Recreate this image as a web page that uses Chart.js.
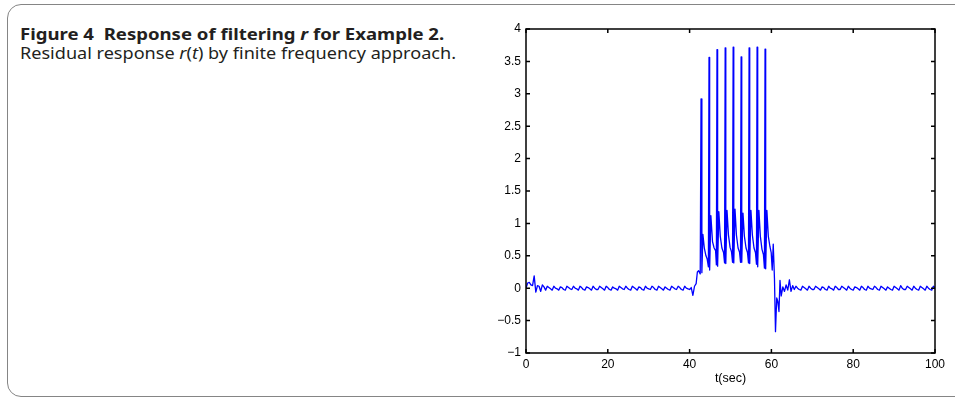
<!DOCTYPE html>
<html>
<head>
<meta charset="utf-8">
<script src="https://cdn.jsdelivr.net/npm/chart.js@4.4.1/dist/chart.umd.min.js"></script>
<style>
  body { margin: 0; width: 955px; height: 399px; overflow: hidden; background: #fff; position: relative; }
  .frame { position: absolute; left: 7px; top: 4px; width: 1000px; height: 391px; border: 1.5px solid #858585; border-radius: 14px; }
  .caption { position: absolute; left: 20px; top: 24px; font-family: "Noto Sans", sans-serif; color: #231f20; white-space: nowrap; }
  .caption div { transform-origin: left center; }
  .caption .title { font-weight: bold; font-size: 16px; line-height: 20px; transform: scaleX(1.16); }
  .caption .sub { font-size: 16px; line-height: 19px; transform: scaleX(1.13); }
  .plot { position: absolute; left: 470px; top: 0; width: 485px; height: 399px; }
</style>
</head>
<body>
<div class="frame"></div>
<div class="caption">
  <div class="title">Figure 4&nbsp;&nbsp;Response of filtering <i>r</i> for Example 2.</div>
  <div class="sub">Residual response <i>r</i>(<i>t</i>) by finite frequency approach.</div>
</div>
<div class="plot"><canvas id="chart" width="485" height="399"></canvas></div>
<script>
// residual r(t) before the fault (0 - 41.2 s)
const timeBefore = [
  0, 0.4, 0.8, 1.2, 1.6, 2.0, 2.4, 2.8, 3.2, 3.6,
  4.0, 4.4, 4.8, 5.2, 5.6, 6.0, 6.4, 6.8, 7.2, 7.6,
  8.0, 8.4, 8.8, 9.2, 9.6, 10.0, 10.4, 10.8, 11.2, 11.6,
  12.0, 12.4, 12.8, 13.2, 13.6, 14.0, 14.4, 14.8, 15.2, 15.6,
  16.0, 16.4, 16.8, 17.2, 17.6, 18.0, 18.4, 18.8, 19.2, 19.6,
  20.0, 20.4, 20.8, 21.2, 21.6, 22.0, 22.4, 22.8, 23.2, 23.6,
  24.0, 24.4, 24.8, 25.2, 25.6, 26.0, 26.4, 26.8, 27.2, 27.6,
  28.0, 28.4, 28.8, 29.2, 29.6, 30.0, 30.4, 30.8, 31.2, 31.6,
  32.0, 32.4, 32.8, 33.2, 33.6, 34.0, 34.4, 34.8, 35.2, 35.6,
  36.0, 36.4, 36.8, 37.2, 37.6, 38.0, 38.4, 38.8, 39.2, 39.6,
  40.0, 40.4, 40.8, 41.2
];
const residualBefore = [
  0.00, 0.08, 0.09, 0.05, 0.04, 0.19, -0.06, 0.04, 0.03, -0.05,
  0.05, 0.02, -0.03, 0.03, 0.01, -0.01, -0.03, 0.03, 0.00, -0.01,
  -0.03, 0.02, 0.01, -0.02, -0.03, 0.03, 0.01, -0.01, -0.02, 0.03,
  0.00, -0.01, -0.03, 0.03, 0.01, -0.02, -0.03, 0.02, 0.01, -0.01,
  -0.03, 0.03, 0.00, -0.02, -0.02, 0.03, 0.01, -0.01, -0.03, 0.03,
  0.01, -0.02, -0.03, 0.02, 0.00, -0.01, -0.03, 0.03, 0.01, -0.01,
  -0.02, 0.03, 0.00, -0.02, -0.03, 0.03, 0.01, -0.01, -0.03, 0.02,
  0.01, -0.02, -0.03, 0.03, 0.00, -0.01, -0.02, 0.03, 0.01, -0.02,
  -0.03, 0.03, 0.01, -0.01, -0.03, 0.02, 0.00, -0.02, -0.03, 0.03,
  0.01, -0.01, -0.02, 0.03, 0.01, -0.02, -0.03, 0.03, 0.00, -0.01,
  -0.02, 0.01, -0.11, 0.03
];

// fault period with the spikes (41.6 - 65.6 s)
const timeBurst = [
  41.6, 41.9, 42.2, 42.6, 42.8, 43.0, 43.25, 43.6, 44.0, 44.3, 44.6,
  44.75, 44.9, 45.2, 45.6, 46.0, 46.35, 46.55,
  46.7, 46.85, 47.15, 47.5, 47.9, 48.3, 48.55,
  48.7, 48.85, 49.15, 49.5, 49.9, 50.25, 50.5,
  50.65, 50.8, 51.1, 51.45, 51.85, 52.2, 52.45,
  52.6, 52.75, 53.05, 53.4, 53.8, 54.15, 54.4,
  54.55, 54.7, 55.0, 55.35, 55.75, 56.1, 56.35,
  56.5, 56.65, 56.95, 57.3, 57.7, 58.05, 58.3,
  58.45, 58.6, 58.9, 59.25, 59.65, 59.95, 60.2,
  60.45, 60.75, 61.0, 61.3, 61.55, 61.85, 62.1, 62.4, 62.8, 63.2,
  63.6, 64.0, 64.4, 64.8, 65.2, 65.6
];
const residualBurst = [
  0.07, 0.25, 0.27, 0.22, 2.92, 0.24, 0.83, 0.62, 0.50, 0.45, 0.33,
  3.56, 0.28, 1.12, 0.72, 0.62, 0.58, 0.36,
  3.68, 0.34, 1.18, 0.80, 0.62, 0.55, 0.39,
  3.71, 0.38, 1.20, 0.82, 0.63, 0.56, 0.40,
  3.72, 0.39, 1.22, 0.82, 0.62, 0.56, 0.40,
  3.57, 0.40, 1.16, 0.80, 0.62, 0.55, 0.39,
  3.71, 0.38, 1.20, 0.82, 0.62, 0.55, 0.37,
  3.72, 0.33, 1.20, 0.80, 0.60, 0.52, 0.31,
  3.69, 0.30, 1.20, 0.80, 0.64, 0.55, 0.28,
  0.68, 0.15, -0.67, -0.15, -0.20, -0.36, 0.12, -0.12, 0.02, -0.05,
  0.05, -0.03, 0.13, -0.05, 0.04, -0.02
];

// after the fault (66 - 100 s)
const timeAfter = [
  66.0, 66.4, 66.8, 67.2, 67.6, 68.0, 68.4, 68.8, 69.2, 69.6,
  70.0, 70.4, 70.8, 71.2, 71.6, 72.0, 72.4, 72.8, 73.2, 73.6,
  74.0, 74.4, 74.8, 75.2, 75.6, 76.0, 76.4, 76.8, 77.2, 77.6,
  78.0, 78.4, 78.8, 79.2, 79.6, 80.0, 80.4, 80.8, 81.2, 81.6,
  82.0, 82.4, 82.8, 83.2, 83.6, 84.0, 84.4, 84.8, 85.2, 85.6,
  86.0, 86.4, 86.8, 87.2, 87.6, 88.0, 88.4, 88.8, 89.2, 89.6,
  90.0, 90.4, 90.8, 91.2, 91.6, 92.0, 92.4, 92.8, 93.2, 93.6,
  94.0, 94.4, 94.8, 95.2, 95.6, 96.0, 96.4, 96.8, 97.2, 97.6,
  98.0, 98.4, 98.8, 99.2, 99.6, 100.0
];
const residualAfter = [
  0.03, 0.00, -0.02, -0.03, 0.03, 0.01, -0.01, -0.03, 0.03, 0.00,
  -0.02, -0.02, 0.03, 0.01, -0.01, -0.03, 0.02, 0.01, -0.02, -0.03,
  0.03, 0.00, -0.01, -0.03, 0.03, 0.01, -0.02, -0.02, 0.03, 0.01,
  -0.01, -0.03, 0.03, 0.00, -0.02, -0.03, 0.02, 0.01, -0.01, -0.03,
  0.03, 0.01, -0.02, -0.03, 0.03, 0.00, -0.01, -0.02, 0.03, 0.01,
  -0.02, -0.03, 0.03, 0.01, -0.01, -0.03, 0.02, 0.00, -0.02, -0.03,
  0.03, 0.01, -0.01, -0.03, 0.04, 0.00, -0.02, -0.02, 0.03, 0.01,
  -0.01, -0.03, 0.03, 0.00, -0.02, -0.03, 0.03, 0.01, -0.01, -0.03,
  0.03, 0.00, -0.02, -0.03, 0.03, 0.01
];

const xTicks = [0, 20, 40, 60, 80, 100];
const yTicks = [-1, -0.5, 0, 0.5, 1, 1.5, 2, 2.5, 3, 3.5, 4];

const times = [...timeBefore, ...timeBurst, ...timeAfter];
const residual = [...residualBefore, ...residualBurst, ...residualAfter];
const points = times.map((t, i) => ({ x: t, y: residual[i] }));

const tickFont = { family: 'Liberation Sans, Arial, sans-serif', size: 12 };

// MATLAB style box with ticks pointing inward on all four sides
const boxPlugin = {
  id: 'box',
  afterDatasetsDraw(chart) {
    const { ctx, chartArea, scales } = chart;
    const { left, right, top, bottom } = chartArea;
    const len = 4;
    ctx.save();
    ctx.strokeStyle = '#000';
    ctx.lineWidth = 1.5;
    ctx.beginPath();
    xTicks.forEach(v => {
      const px = scales.x.getPixelForValue(v);
      ctx.moveTo(px, bottom); ctx.lineTo(px, bottom - len);
      ctx.moveTo(px, top); ctx.lineTo(px, top + len);
    });
    yTicks.forEach(v => {
      const py = scales.y.getPixelForValue(v);
      ctx.moveTo(left, py); ctx.lineTo(left + len, py);
      ctx.moveTo(right, py); ctx.lineTo(right - len, py);
    });
    ctx.stroke();
    ctx.strokeRect(left, top, right - left, bottom - top);
    ctx.restore();
  }
};

new Chart(document.getElementById('chart'), {
  type: 'line',
  data: {
    datasets: [{
      data: points,
      borderColor: '#0000ff',
      borderWidth: 1.3,
      borderJoinStyle: 'round',
      pointRadius: 0,
      tension: 0,
      fill: false
    }]
  },
  options: {
    responsive: false,
    animation: false,
    events: [],
    layout: { padding: { left: 0, right: 20, top: 29, bottom: 5 } },
    plugins: { legend: { display: false }, tooltip: { enabled: false } },
    scales: {
      x: {
        type: 'linear',
        min: 0,
        max: 100,
        afterBuildTicks(scale) { scale.ticks = xTicks.map(v => ({ value: v })); },
        ticks: { color: '#000', font: tickFont, padding: 4, maxRotation: 0, autoSkip: false },
        grid: { display: false, drawTicks: false },
        border: { display: false },
        title: { display: true, text: 't(sec)', color: '#000', font: { family: tickFont.family, size: 12.5 }, padding: { top: 0, bottom: 8 } },
        afterFit(scale) { scale.height = 41; }
      },
      y: {
        min: -1,
        max: 4,
        afterBuildTicks(scale) { scale.ticks = yTicks.map(v => ({ value: v })); },
        ticks: {
          color: '#000',
          font: tickFont,
          padding: 5,
          autoSkip: false,
          callback: v => String(v).replace('-', '\u2212')
        },
        grid: { display: false, drawTicks: false },
        border: { display: false },
        afterFit(scale) { scale.width = 56; }
      }
    }
  },
  plugins: [boxPlugin]
});
</script>
</body>
</html>
